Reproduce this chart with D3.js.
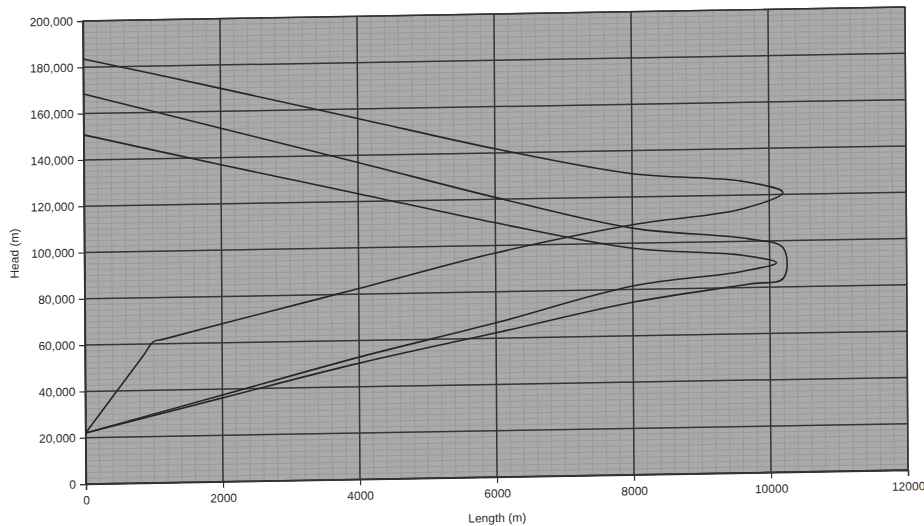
<!DOCTYPE html>
<html>
<head>
<meta charset="utf-8">
<script src="https://cdn.jsdelivr.net/npm/d3@7"></script>
<style>
  body { margin: 0; background: #fff; }
  text { font-family: "Liberation Sans", Arial, sans-serif; fill: #2e2e2e; }
</style>
</head>
<body>
<div id="chart"></div>
<script>
/* CONSTANTS AND GLOBALS */
const width = 924,
  height = 526,
  margin = { top: 21, right: 16, bottom: 42, left: 86 };

// the scan is slightly skewed: right side sits higher, top leans left
const skewY = -0.017,
  skewX = 0.0065;

/* DATA (length in m, head in m) */
const xTicks = [0, 2000, 4000, 6000, 8000, 10000, 12000];
const yTicks = [0, 20000, 40000, 60000, 80000, 100000, 120000, 140000, 160000, 180000, 200000];

// series 1 - starts at top 184,000, sharp kink near 1000 m
const s1Length = [0, 850, 1000, 1150, 2000, 4000, 6000, 8000, 9600, 10200, 9600, 8000, 6000, 4000, 2000, 0];
const s1Head = [22000, 55100, 61000, 62000, 68200, 82400, 96800, 108000, 114000, 120800, 126000, 130000, 141800, 155900, 169900, 183600];

// series 2 - outer loop with the flat tip
const s2Length = [0, 2000, 4000, 6000, 8000, 9700, 10200, 10200, 9700, 8000, 6000, 4000, 2000, 0];
const s2Head = [168500, 152700, 136900, 120800, 106500, 101000, 96800, 83800, 81500, 74500, 62300, 50200, 36200, 22000];

// series 3 - inner loop
const s3Length = [0, 2000, 4000, 6000, 8000, 9600, 10100, 9600, 8000, 6000, 4000, 2000, 0];
const s3Head = [150800, 136900, 123400, 109800, 97800, 94000, 90500, 87000, 81500, 66600, 52800, 37400, 22000];

const seriesList = [
  s1Length.map((d, i) => [d, s1Head[i]]),
  s2Length.map((d, i) => [d, s2Head[i]]),
  s3Length.map((d, i) => [d, s3Head[i]])
];

/* SCALES */
const xScale = d3.scaleLinear()
  .domain([0, 12000])
  .range([margin.left, width - margin.right]);

const yScale = d3.scaleLinear()
  .domain([0, 200000])
  .range([height - margin.bottom, margin.top]);

const px = margin.left, py = height - margin.bottom;

const svg = d3.select("#chart")
  .append("svg")
  .attr("width", width)
  .attr("height", height);

const g = svg.append("g")
  .attr("transform", `matrix(1,${skewY},${skewX},1,${-skewX * py},${-skewY * px})`);

// grey halftone plot area
g.append("rect")
  .attr("x", xScale(0))
  .attr("y", yScale(200000))
  .attr("width", xScale(12000) - xScale(0))
  .attr("height", yScale(0) - yScale(200000))
  .attr("fill", "#aaaaaa");

// fine graph-paper lines of the scan
g.append("g")
  .selectAll("line")
  .data(d3.range(0, 12000, 200))
  .join("line")
  .attr("x1", d => xScale(d)).attr("x2", d => xScale(d))
  .attr("y1", yScale(0)).attr("y2", yScale(200000))
  .attr("stroke", "#8f8f8f")
  .attr("stroke-width", 0.6);

g.append("g")
  .selectAll("line")
  .data(d3.range(0, 200000, 2500))
  .join("line")
  .attr("x1", xScale(0)).attr("x2", xScale(12000))
  .attr("y1", d => yScale(d)).attr("y2", d => yScale(d))
  .attr("stroke", "#8f8f8f")
  .attr("stroke-width", 0.6);

// major gridlines
g.append("g")
  .selectAll("line")
  .data(xTicks)
  .join("line")
  .attr("x1", d => xScale(d)).attr("x2", d => xScale(d))
  .attr("y1", yScale(0)).attr("y2", yScale(200000))
  .attr("stroke", "#363636")
  .attr("stroke-width", 1.5);

g.append("g")
  .selectAll("line")
  .data(yTicks)
  .join("line")
  .attr("x1", xScale(0)).attr("x2", xScale(12000))
  .attr("y1", d => yScale(d)).attr("y2", d => yScale(d))
  .attr("stroke", "#363636")
  .attr("stroke-width", 1.5);

/* AXES */
const xAxis = d3.axisBottom(xScale)
  .tickValues(xTicks)
  .tickFormat(d3.format("d"))
  .tickSize(6)
  .tickPadding(6);

const yAxis = d3.axisLeft(yScale)
  .tickValues(yTicks)
  .tickFormat(d3.format(","))
  .tickSize(6)
  .tickPadding(4);

const xG = g.append("g")
  .attr("transform", `translate(0,${yScale(0)})`)
  .call(xAxis);

const yG = g.append("g")
  .attr("transform", `translate(${xScale(0)},0)`)
  .call(yAxis);

[xG, yG].forEach(a => {
  a.select(".domain").attr("stroke", "#333").attr("stroke-width", 1.4);
  a.selectAll(".tick line").attr("stroke", "#333").attr("stroke-width", 1.2);
  a.selectAll(".tick text").attr("font-size", 12).attr("fill", "#2e2e2e");
});

// plot frame
g.append("rect")
  .attr("x", xScale(0))
  .attr("y", yScale(200000))
  .attr("width", xScale(12000) - xScale(0))
  .attr("height", yScale(0) - yScale(200000))
  .attr("fill", "none")
  .attr("stroke", "#333")
  .attr("stroke-width", 1.4);

// axis titles
g.append("text")
  .attr("x", (xScale(0) + xScale(12000)) / 2)
  .attr("y", 529)
  .attr("text-anchor", "middle")
  .attr("font-size", 12)
  .text("Length (m)");

g.append("text")
  .attr("transform", `translate(20,${(yScale(0) + yScale(200000)) / 2}) rotate(-90)`)
  .attr("text-anchor", "middle")
  .attr("font-size", 12)
  .text("Head (m)");

/* LINES */
const line = d3.line()
  .x(d => xScale(d[0]))
  .y(d => yScale(d[1]))
  .curve(d3.curveCatmullRom.alpha(0.5));

g.append("g")
  .selectAll("path")
  .data(seriesList)
  .join("path")
  .attr("d", line)
  .attr("fill", "none")
  .attr("stroke", "#262626")
  .attr("stroke-width", 1.6);
</script>
</body>
</html>
